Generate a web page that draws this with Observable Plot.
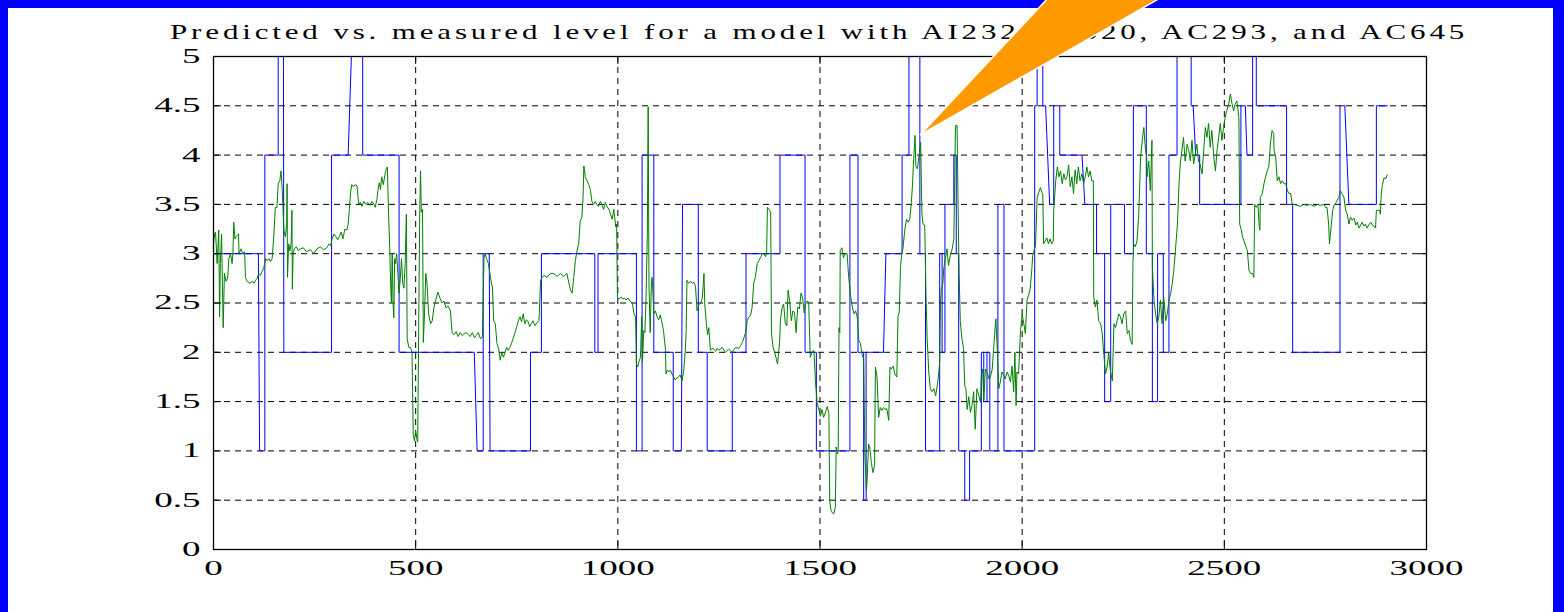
<!DOCTYPE html>
<html><head><meta charset="utf-8">
<script src="https://cdn.jsdelivr.net/npm/d3@7"></script>
<script src="https://cdn.jsdelivr.net/npm/@observablehq/plot@0.6"></script>
<style>
html,body{margin:0;padding:0;background:#fff;}
#page{position:relative;width:1564px;height:612px;overflow:hidden;background:#fff;font-family:"Liberation Serif",serif;}
#title{display:block;}
#chart svg{display:block;}
#border{position:absolute;left:0;top:0;width:1564px;height:660px;box-sizing:border-box;border-top:8px solid #0000ff;border-left:8px solid #0000ff;border-right:11px solid #0000ff;pointer-events:none;}
#callout{position:absolute;left:0;top:0;pointer-events:none;}
</style></head>
<body><div id="page">
<svg id="title" width="1564" height="44"><text transform="scale(1.55,1)" x="109.7" y="39" font-size="20" textLength="835" lengthAdjust="spacing" fill="#000" font-family="Liberation Serif">Predicted vs. measured level for a model with AI232, AI320, AC293, and AC645</text></svg>
<div id="chart"></div>
<div id="border"></div>
<svg id="callout" width="1564" height="612"><polygon points="920,135 1049,-3 1162,-3" fill="#ff9900" stroke="#ffffff" stroke-width="1.5"/></svg>
</div>
<script>
const xTicks = [0, 500, 1000, 1500, 2000, 2500, 3000];
const yTicks = [0, 0.5, 1, 1.5, 2, 2.5, 3, 3.5, 4, 4.5, 5];

// measured level (blue), polyline vertices [sample, level]
const measured = [[0,3],[111,3],[114,1],[127,1],[127,4],[160,4],[160,5],[173,5],[174,2],[292,2],[292,4],[333,4],[341,5],[369,5],[369,4],[459,4],[459,2],[645,2],[652,1],[667,1],[667,3],[682,3],[684,1],[784,1],[784,2],[811,2],[811,3],[943,3],[943,2],[951,2],[951,3],[1046,3],[1046,1],[1060,1],[1060,4],[1089,4],[1089,2],[1137,2],[1137,1],[1157,1],[1160,3.5],[1199,3.5],[1199,2],[1221,2],[1221,1],[1283,1],[1283,2],[1317,2],[1317,3],[1401,3],[1401,4],[1463,4],[1463,2],[1491,2],[1491,1],[1574,1],[1574,4],[1594,4],[1594,2],[1608,2],[1608,0.5],[1614,0.5],[1614,2],[1657,2],[1663,3],[1703,3],[1703,4],[1720,4],[1720,5],[1747,5],[1747,3],[1761,3],[1761,1],[1796,1],[1796,3],[1802,3],[1802,2],[1809,2],[1809,3.5],[1831,3.5],[1831,4],[1837,4],[1837,3],[1843,3],[1843,1],[1858,1],[1858,0.5],[1870,0.5],[1870,1],[1899,1],[1899,2],[1905,2],[1905,1.5],[1913,1.5],[1913,2],[1920,2],[1920,1],[1940,1],[1940,3.5],[1955,3.5],[1955,1],[2031,1],[2031,4.5],[2037,4.5],[2037,5],[2051,5],[2051,4.5],[2058,4.5],[2068,3.5],[2078,3.5],[2078,4.5],[2093,4.5],[2093,4],[2148,4],[2155,3.5],[2184,3.5],[2184,3],[2204,3],[2204,1.5],[2219,1.5],[2219,3.5],[2253,3.5],[2253,3],[2275,3],[2275,4.5],[2307,4.5],[2307,3],[2322,3],[2322,1.5],[2335,1.5],[2335,3],[2349,3],[2349,2],[2363,2],[2363,4],[2383,4],[2383,5],[2418,5],[2418,4.5],[2423,4.5],[2429,4],[2439,4],[2439,3.5],[2541,3.5],[2541,4.5],[2552,4.5],[2556,4],[2570,4],[2570,5],[2579,5],[2579,4.5],[2654,4.5],[2654,3.5],[2669,3.5],[2669,2],[2786,2],[2786,4.5],[2798,4.5],[2808,3.5],[2876,3.5],[2876,4.5],[2903,4.5]];

// predicted level (green), [sample, level]
const predicted = [[0,3.1],[3,3.2],[5,3.22],[9,2.9],[13,3.24],[15,2.36],[17,2.9],[20,3.2],[22,2.7],[24,2.25],[27,2.8],[31,2.72],[35,2.75],[38,2.95],[42,3.0],[46,2.9],[48,3.0],[50,3.32],[53,3.15],[57,3.18],[62,3.2],[63,3.0],[68,3.05],[72,3.0],[77,3.02],[79,2.76],[83,2.72],[90,2.7],[96,2.72],[100,2.7],[104,2.73],[108,2.75],[112,2.8],[116,2.78],[120,2.82],[124,2.85],[129,2.95],[133,2.93],[137,2.95],[141,2.92],[145,2.95],[149,3.17],[153,3.47],[157,3.47],[160,3.71],[164,3.74],[167,3.84],[170,3.64],[174,3.24],[178,3.17],[181,3.3],[182,3.71],[183,2.76],[186,3.1],[189,3.03],[192,3.1],[194,3.44],[195,2.64],[197,3.0],[200,3.05],[205,3.07],[210,3.03],[215,3.05],[222,3.06],[230,3.02],[240,3.04],[248,3.0],[256,3.05],[264,3.07],[272,3.04],[280,3.06],[286,3.1],[290,3.08],[293,3.15],[298,3.2],[303,3.17],[307,3.14],[312,3.18],[316,3.22],[320,3.15],[325,3.25],[330,3.24],[333,3.3],[336,3.45],[339,3.62],[342,3.7],[346,3.68],[350,3.7],[355,3.69],[359,3.5],[363,3.52],[367,3.48],[372,3.53],[377,3.5],[382,3.52],[387,3.49],[392,3.53],[397,3.5],[400,3.47],[404,3.55],[407,3.65],[410,3.72],[413,3.65],[416,3.78],[420,3.7],[424,3.8],[427,3.86],[430,3.88],[433,3.4],[436,3.05],[438,2.7],[440,2.5],[442,3.0],[444,2.5],[446,2.35],[448,2.95],[450,2.9],[453,3.0],[456,2.8],[459,2.6],[462,2.75],[465,2.95],[468,2.7],[471,2.65],[474,2.9],[477,3.4],[479,2.14],[483,2.05],[487,2.05],[491,2.0],[494,1.16],[497,1.1],[500,1.2],[503,1.12],[505,1.09],[508,2.5],[510,3.4],[512,3.84],[514,3.42],[517,3.45],[519,2.1],[522,2.4],[525,2.8],[528,2.7],[532,2.39],[537,2.29],[541,2.32],[545,2.45],[549,2.52],[555,2.61],[560,2.55],[565,2.5],[570,2.52],[575,2.45],[580,2.47],[586,2.42],[590,2.2],[595,2.18],[600,2.21],[605,2.16],[610,2.2],[615,2.17],[620,2.19],[625,2.2],[630,2.18],[635,2.16],[640,2.2],[645,2.15],[650,2.17],[655,2.2],[660,2.14],[665,2.15],[669,2.96],[672,3.0],[675,2.95],[680,2.9],[685,2.76],[690,2.65],[693,2.32],[697,2.29],[701,2.09],[705,2.04],[709,1.92],[713,2.0],[717,1.95],[721,2.0],[725,2.05],[729,2.02],[733,2.05],[737,2.09],[741,2.14],[745,2.19],[750,2.26],[754,2.32],[758,2.36],[762,2.31],[766,2.39],[770,2.29],[774,2.33],[778,2.31],[782,2.26],[786,2.29],[790,2.32],[795,2.27],[800,2.3],[805,2.32],[809,2.73],[813,2.76],[817,2.78],[825,2.76],[833,2.8],[841,2.8],[850,2.77],[858,2.8],[866,2.77],[874,2.8],[879,2.7],[883,2.63],[887,2.6],[891,2.76],[895,2.93],[899,3.03],[903,3.1],[907,3.33],[911,3.37],[914,3.57],[916,3.89],[920,3.77],[924,3.74],[928,3.7],[932,3.65],[936,3.53],[940,3.5],[944,3.53],[948,3.5],[952,3.48],[957,3.53],[961,3.49],[965,3.45],[969,3.52],[973,3.48],[978,3.45],[982,3.4],[986,3.35],[990,3.45],[995,3.27],[997,3.3],[999,2.56],[1003,2.54],[1008,2.56],[1012,2.54],[1016,2.55],[1020,2.53],[1025,2.55],[1030,2.52],[1036,2.5],[1040,2.39],[1044,2.36],[1046,1.88],[1049,1.85],[1052,1.9],[1056,1.95],[1059,2.36],[1061,1.9],[1064,2.22],[1067,2.2],[1070,2.6],[1073,3.2],[1075,4.49],[1077,2.7],[1080,2.2],[1083,2.72],[1085,2.76],[1089,2.39],[1093,2.42],[1097,2.36],[1101,2.33],[1105,2.38],[1109,2.3],[1113,2.22],[1118,2.02],[1119,1.78],[1122,1.82],[1126,1.8],[1130,1.82],[1134,1.78],[1138,1.75],[1142,1.72],[1146,1.74],[1150,1.75],[1154,1.77],[1159,1.71],[1163,1.82],[1167,2.02],[1169,2.22],[1171,2.73],[1175,2.7],[1180,2.72],[1184,2.7],[1188,2.71],[1192,2.67],[1196,2.42],[1200,2.48],[1205,2.5],[1209,2.55],[1213,2.8],[1215,2.49],[1219,2.29],[1222,2.18],[1225,2.25],[1229,2.02],[1233,2.04],[1238,2.03],[1242,2.01],[1246,2.04],[1250,2.02],[1258,2.05],[1266,2.0],[1274,2.03],[1283,2.0],[1291,2.05],[1299,2.04],[1304,2.07],[1308,2.1],[1312,2.15],[1316,2.2],[1320,2.32],[1324,2.36],[1328,2.37],[1332,2.45],[1336,2.7],[1340,2.76],[1345,2.9],[1349,2.93],[1353,2.96],[1357,3.0],[1361,3.0],[1365,2.97],[1368,3.0],[1370,3.47],[1374,3.45],[1378,3.42],[1380,2.19],[1384,2.05],[1388,2.0],[1392,1.93],[1395,1.88],[1400,2.1],[1402,2.32],[1406,2.45],[1410,2.49],[1414,2.3],[1418,2.27],[1421,2.63],[1425,2.52],[1429,2.32],[1433,2.42],[1437,2.4],[1441,2.2],[1445,2.46],[1449,2.44],[1453,2.6],[1457,2.55],[1461,2.4],[1464,2.49],[1468,2.52],[1472,2.51],[1476,1.95],[1480,2.0],[1485,2.02],[1489,1.69],[1493,1.49],[1497,1.42],[1501,1.35],[1505,1.42],[1509,1.34],[1514,1.4],[1518,1.45],[1522,1.38],[1524,0.5],[1527,0.4],[1531,0.37],[1534,0.36],[1538,0.43],[1540,1.04],[1543,0.97],[1545,1.0],[1547,2.25],[1549,2.2],[1550,3.03],[1554,3.06],[1558,2.96],[1562,3.0],[1567,3.0],[1571,2.76],[1576,2.56],[1580,2.46],[1584,2.39],[1588,2.42],[1592,2.36],[1596,2.12],[1600,2.09],[1604,1.98],[1608,1.93],[1611,0.97],[1615,0.6],[1617,0.74],[1620,1.07],[1623,1.04],[1627,0.88],[1631,0.78],[1635,0.85],[1637,1.85],[1641,1.75],[1645,1.34],[1649,1.44],[1653,1.41],[1657,1.44],[1661,1.42],[1665,1.43],[1670,1.31],[1673,1.85],[1676,1.83],[1681,1.86],[1685,1.78],[1690,1.75],[1693,2.37],[1696,2.4],[1699,2.85],[1702,3.0],[1705,3.05],[1710,3.25],[1714,3.35],[1718,3.32],[1722,3.35],[1726,3.52],[1729,3.72],[1731,3.9],[1735,4.2],[1737,3.89],[1741,3.86],[1745,4.0],[1749,4.13],[1752,3.4],[1755,3.3],[1759,3.29],[1762,2.6],[1765,2.14],[1769,1.8],[1773,1.63],[1777,1.6],[1782,1.63],[1786,1.56],[1790,1.66],[1793,1.76],[1796,1.9],[1798,2.5],[1800,2.64],[1804,2.7],[1806,2.85],[1810,2.95],[1814,3.05],[1818,2.88],[1822,2.98],[1827,3.05],[1831,3.15],[1834,4.0],[1835,4.3],[1839,4.3],[1842,3.32],[1844,2.81],[1847,2.31],[1851,2.14],[1855,2.04],[1858,1.66],[1861,1.63],[1864,1.42],[1868,1.55],[1872,1.39],[1876,1.46],[1880,1.6],[1884,1.22],[1888,1.63],[1893,1.56],[1897,1.49],[1899,1.76],[1902,1.83],[1905,1.52],[1909,1.83],[1913,1.8],[1918,1.73],[1922,1.76],[1926,1.83],[1930,2.07],[1934,2.3],[1935,2.34],[1938,2.07],[1942,1.63],[1946,1.7],[1950,1.8],[1954,1.77],[1958,1.73],[1963,1.8],[1967,1.76],[1971,1.7],[1975,1.86],[1979,1.6],[1982,2.0],[1985,1.46],[1987,1.8],[1991,1.78],[1996,2.22],[2000,2.39],[2004,2.29],[2008,2.19],[2012,2.53],[2016,2.58],[2020,2.65],[2024,2.85],[2026,2.98],[2029,3.03],[2033,3.08],[2037,3.57],[2041,3.62],[2045,3.67],[2049,3.62],[2051,3.6],[2053,3.1],[2057,3.13],[2061,3.16],[2065,3.1],[2069,3.15],[2073,3.1],[2077,3.13],[2078,3.44],[2083,3.74],[2087,3.88],[2091,3.78],[2095,3.84],[2099,3.71],[2103,3.81],[2107,3.75],[2111,3.78],[2115,3.9],[2119,3.68],[2123,3.78],[2127,3.61],[2131,3.85],[2135,3.71],[2139,3.88],[2143,3.74],[2148,3.81],[2152,3.71],[2156,3.78],[2160,3.88],[2164,3.78],[2168,3.84],[2172,3.74],[2176,3.74],[2177,2.56],[2181,2.46],[2185,2.53],[2189,2.32],[2194,2.29],[2198,2.19],[2202,1.98],[2206,1.78],[2210,1.85],[2214,2.0],[2218,1.82],[2223,1.71],[2227,2.29],[2231,2.25],[2235,2.32],[2239,2.39],[2243,2.36],[2247,2.29],[2251,2.39],[2256,2.42],[2260,2.19],[2264,2.22],[2268,2.12],[2272,2.08],[2274,2.9],[2276,3.1],[2280,3.07],[2284,3.13],[2288,3.37],[2293,3.98],[2297,4.15],[2301,4.28],[2305,4.05],[2308,3.98],[2309,3.78],[2313,3.94],[2317,3.64],[2321,4.15],[2322,2.86],[2326,2.53],[2330,2.39],[2334,2.29],[2338,2.36],[2342,2.53],[2346,2.29],[2350,2.56],[2355,2.32],[2359,2.39],[2363,2.53],[2367,2.59],[2371,2.69],[2375,2.83],[2379,3.03],[2384,3.3],[2388,3.71],[2391,3.91],[2395,4.05],[2399,4.18],[2403,3.94],[2408,4.11],[2412,4.05],[2416,3.94],[2420,4.15],[2424,3.91],[2428,4.01],[2432,4.11],[2436,3.94],[2440,3.91],[2445,3.81],[2449,4.05],[2453,4.28],[2457,4.18],[2461,4.32],[2465,4.08],[2469,4.25],[2474,3.98],[2478,3.84],[2482,4.05],[2486,4.18],[2490,4.32],[2494,4.15],[2498,4.28],[2502,4.38],[2506,4.45],[2511,4.52],[2515,4.62],[2519,4.52],[2523,4.45],[2527,4.52],[2531,4.55],[2536,4.38],[2538,3.3],[2542,3.24],[2545,3.17],[2551,3.1],[2557,3.03],[2561,2.83],[2565,2.8],[2570,2.8],[2573,2.76],[2575,3.5],[2579,3.47],[2583,3.5],[2587,3.24],[2588,3.24],[2589,3.57],[2594,3.61],[2598,3.71],[2602,3.78],[2606,3.84],[2610,3.88],[2614,4.12],[2618,4.25],[2622,4.22],[2623,4.05],[2627,3.98],[2631,3.74],[2635,3.78],[2639,3.71],[2643,3.74],[2648,3.71],[2652,3.71],[2656,3.64],[2660,3.61],[2664,3.61],[2668,3.5],[2672,3.5],[2680,3.49],[2688,3.48],[2697,3.5],[2705,3.49],[2713,3.5],[2722,3.48],[2730,3.5],[2738,3.49],[2746,3.5],[2750,3.47],[2754,3.47],[2758,3.3],[2760,3.1],[2764,3.27],[2768,3.44],[2772,3.5],[2777,3.52],[2779,3.54],[2783,3.57],[2787,3.64],[2792,3.6],[2796,3.57],[2800,3.44],[2804,3.4],[2808,3.3],[2812,3.37],[2816,3.34],[2821,3.36],[2825,3.29],[2829,3.32],[2833,3.26],[2837,3.29],[2841,3.32],[2845,3.28],[2849,3.3],[2853,3.26],[2857,3.29],[2862,3.32],[2866,3.29],[2870,3.28],[2874,3.26],[2876,3.44],[2880,3.44],[2884,3.44],[2886,3.4],[2888,3.6],[2891,3.7],[2895,3.77],[2899,3.76],[2903,3.8]];

const W = 1564, H = 568, mL = 213, mR = 138, mT = 12, mB = 63;
const plotW = W - mL - mR, plotH = H - mT - mB;
const font = "Liberation Serif";

const chart = Plot.plot({
  width: W, height: H,
  marginLeft: mL, marginRight: mR, marginTop: mT, marginBottom: mB,
  style: {background: "transparent", fontFamily: font, fontSize: "20px", color: "#000", overflow: "visible"},
  x: {domain: [0, 3000]},
  y: {domain: [0, 5]},
  marks: [
    Plot.ruleX(xTicks.slice(1, -1), {stroke: "#000", strokeWidth: 1, strokeDasharray: "6,5"}),
    Plot.ruleY(yTicks.slice(1, -1), {stroke: "#000", strokeWidth: 1, strokeDasharray: "6,5"}),
    Plot.line(measured, {x: d => d[0], y: d => d[1], stroke: "#0000ff", strokeWidth: 1}),
    Plot.line(predicted, {x: d => d[0], y: d => d[1], stroke: "#008000", strokeWidth: 1}),
    Plot.tickY(yTicks, {y: d => d, insetRight: plotW - 8, stroke: "#000"}),
    Plot.tickY(yTicks, {y: d => d, insetLeft: plotW - 8, stroke: "#000"}),
    Plot.tickX(xTicks, {x: d => d, insetTop: plotH - 8, stroke: "#000"}),
    Plot.tickX(xTicks, {x: d => d, insetBottom: plotH - 8, stroke: "#000"}),
    Plot.frame({stroke: "#000", strokeWidth: 1.3}),
    Plot.axisX({ticks: xTicks, tickSize: 0, tickPadding: 11, fontSize: 20, fontFamily: font, label: null, tickFormat: d => String(d)}),
    Plot.axisY({ticks: yTicks, tickSize: 0, tickPadding: 13, fontSize: 20, fontFamily: font, label: null, tickFormat: d => String(d)})
  ]
});
document.getElementById("chart").append(chart);
// stretch tick label glyphs horizontally like the original
chart.querySelectorAll("text").forEach(t => {
  const w = t.getComputedTextLength();
  if (w > 0) {
    t.setAttribute("textLength", (w * 1.85).toFixed(1));
    t.setAttribute("lengthAdjust", "spacingAndGlyphs");
  }
});
</script>
</body></html>
